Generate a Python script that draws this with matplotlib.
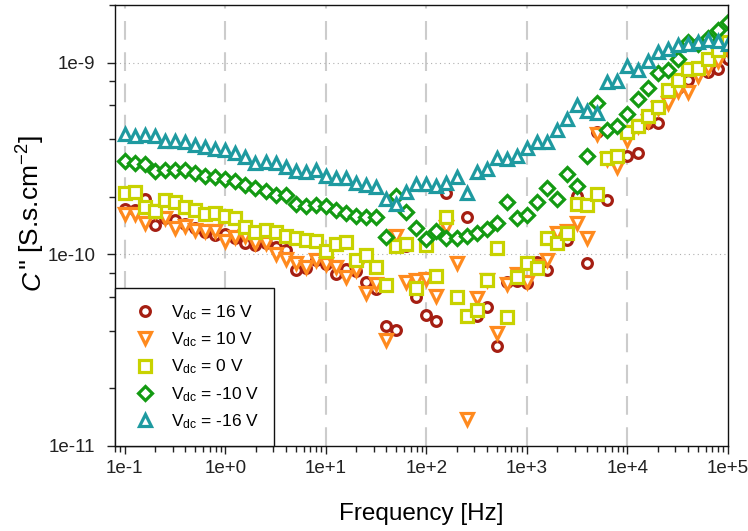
import numpy as np
import matplotlib
matplotlib.use("Agg")
import matplotlib.pyplot as plt
from matplotlib.ticker import LogLocator, FixedLocator, NullFormatter

plt.rcParams['font.family'] = ['Liberation Sans', 'DejaVu Sans']
plt.rcParams['mathtext.fontset'] = 'custom'
plt.rcParams['mathtext.rm'] = 'Liberation Sans'
plt.rcParams['mathtext.it'] = 'Liberation Sans:italic'
plt.rcParams['mathtext.bf'] = 'Liberation Sans:bold'

# Frequencies: 10 points per decade from 1e-1 to 1e5
freq = [round(10 ** (k / 10.0 - 1), 6) for k in range(61)]

c_16 = [0.172, 0.171, 0.194, 0.142, 0.155, 0.151, 0.144, 0.137, 0.131, 0.126,
        0.128, 0.122, 0.115, 0.112, 0.115, 0.109, 0.105, 0.0827, 0.0847, 0.0938,
        0.0893, 0.0790, 0.0837, 0.0818, 0.0720, 0.0661, 0.0421, 0.0404, 0.111, 0.0598,
        0.0483, 0.0447, 0.210, 0.0598, 0.157, 0.0475, 0.0534, 0.0333, 0.0717, 0.0726,
        0.0713, 0.0916, 0.0827, 0.129, 0.119, 0.201, 0.0902, 0.433, 0.191, 0.320,
        0.325, 0.338, 0.482, 0.486, 0.681, 0.738, 0.815, 0.938, 0.890, 0.927,
        1.049]
c_10 = [0.163, 0.163, 0.146, 0.169, 0.154, 0.137, 0.141, 0.134, 0.133, 0.133,
        0.118, 0.123, 0.125, 0.114, 0.114, 0.101, 0.0943, 0.0902, 0.0860, 0.0935,
        0.0887, 0.0863, 0.0761, 0.0830, 0.0627, 0.0704, 0.0359, 0.124, 0.0716, 0.0735,
        0.0742, 0.0607, 0.139, 0.0902, 0.0138, 0.0590, 0.0735, 0.0388, 0.0699, 0.0790,
        0.0717, 0.0870, 0.0935, 0.130, 0.132, 0.145, 0.121, 0.425, 0.313, 0.287,
        0.396, 0.468, 0.498, 0.582, 0.616, 0.708, 0.699, 0.856, 0.938, 1.016,
        1.169]
c_0 = [0.208, 0.212, 0.176, 0.168, 0.192, 0.187, 0.176, 0.171, 0.163, 0.165,
       0.159, 0.155, 0.139, 0.131, 0.134, 0.131, 0.125, 0.122, 0.119, 0.117,
       0.104, 0.113, 0.116, 0.0929, 0.0994, 0.0860, 0.0694, 0.110, 0.113, 0.0667,
       0.112, 0.0770, 0.157, 0.0598, 0.0477, 0.0513, 0.0735, 0.108, 0.0470, 0.0761,
       0.0899, 0.0847, 0.122, 0.114, 0.129, 0.184, 0.180, 0.206, 0.317, 0.324,
       0.433, 0.469, 0.524, 0.585, 0.717, 0.815, 0.927, 0.938, 1.049, 1.169,
       1.277]
c_m10 = [0.308, 0.301, 0.296, 0.272, 0.275, 0.275, 0.275, 0.265, 0.255, 0.254,
         0.248, 0.242, 0.230, 0.221, 0.215, 0.205, 0.205, 0.184, 0.179, 0.181,
         0.178, 0.170, 0.164, 0.159, 0.156, 0.157, 0.123, 0.201, 0.166, 0.137,
         0.120, 0.133, 0.122, 0.122, 0.125, 0.130, 0.135, 0.145, 0.188, 0.155,
         0.160, 0.188, 0.223, 0.194, 0.262, 0.226, 0.326, 0.618, 0.444, 0.468,
         0.542, 0.646, 0.738, 0.884, 0.912, 1.045, 1.277, 1.252, 1.345, 1.475,
         1.63]
c_m16 = [0.426, 0.416, 0.420, 0.413, 0.391, 0.391, 0.387, 0.373, 0.363, 0.355,
         0.349, 0.338, 0.321, 0.301, 0.305, 0.299, 0.285, 0.272, 0.268, 0.274,
         0.255, 0.250, 0.250, 0.237, 0.230, 0.224, 0.194, 0.184, 0.212, 0.232,
         0.233, 0.227, 0.237, 0.252, 0.210, 0.269, 0.279, 0.320, 0.316, 0.325,
         0.359, 0.385, 0.385, 0.447, 0.508, 0.603, 0.562, 0.546, 0.793, 0.806,
         0.965, 0.919, 1.016, 1.137, 1.18, 1.24, 1.25, 1.277, 1.32, 1.29,
         1.25]

labels = [r'V$_{\mathrm{dc}}$ = 16 V', r'V$_{\mathrm{dc}}$ = 10 V', r'V$_{\mathrm{dc}}$ = 0 V',
          r'V$_{\mathrm{dc}}$ = -10 V', r'V$_{\mathrm{dc}}$ = -16 V']
series = [c_16, c_10, c_0, c_m10, c_m16]
colors = ['#A51E12', '#FF8A1E', '#C8D200', '#139A12', '#1E9AA0']
markers = ['o', 'v', 's', 'D', '^']
sizes = [7.0, 8.0, 8.5, 7.0, 8.0]

W, H = 748, 531
fig = plt.figure(figsize=(W / 100, H / 100), dpi=100)
ax = fig.add_axes([115 / W, 1 - 446 / H, (728 - 115) / W, (446 - 5) / H])

for vals, lab, col, mk, ms in zip(series, labels, colors, markers, sizes):
    ax.plot(freq, np.array(vals) * 1e-9, linestyle='none', marker=mk, markersize=ms,
            markerfacecolor='white', markeredgecolor=col, markeredgewidth=2.3,
            label=lab)

ax.set_xscale('log')
ax.set_yscale('log')
ax.set_xlim(0.08, 1e5)
ax.set_ylim(1e-11, 2e-9)

ax.xaxis.set_major_locator(FixedLocator([1e-1, 1e0, 1e1, 1e2, 1e3, 1e4, 1e5]))
ax.set_xticklabels(['1e-1', '1e+0', '1e+1', '1e+2', '1e+3', '1e+4', '1e+5'])
ax.xaxis.set_minor_locator(LogLocator(base=10, subs=np.arange(2, 10), numticks=20))
ax.xaxis.set_minor_formatter(NullFormatter())
ax.yaxis.set_major_locator(FixedLocator([1e-11, 1e-10, 1e-9]))
ax.set_yticklabels(['1e-11', '1e-10', '1e-9'])
ax.yaxis.set_minor_locator(LogLocator(base=10, subs=[2, 4, 6, 8], numticks=20))
ax.yaxis.set_minor_formatter(NullFormatter())

ax.tick_params(which='major', direction='out', length=6, width=1, labelsize=13.5, colors='#222222')
ax.tick_params(which='minor', direction='out', length=4, width=1, colors='#222222')
ax.tick_params(axis='x', which='major', pad=4)
ax.tick_params(axis='y', which='major', pad=8)

for x in [1e-1, 1e0, 1e1, 1e2, 1e3, 1e4]:
    ax.axvline(x, color='#cccccc', linewidth=1.5, dashes=(9, 6), zorder=0)
for y in [1e-10, 1e-9]:
    ax.axhline(y, color='#b0b0b0', linewidth=0.8, dashes=(1, 3), zorder=0)

for s in ax.spines.values():
    s.set_linewidth(1.0)
    s.set_color('#111111')

ax.set_xlabel('Frequency [Hz]', fontsize=17.5, labelpad=19)

# Y label: italic "C" followed by the upright remainder, both rotated
base_x = 40 / W
start_y = 290 / H
t1 = fig.text(base_x, 1 - start_y, 'C', rotation=90, rotation_mode='anchor',
              ha='left', va='baseline', fontsize=19, style='italic')
fig.canvas.draw()
ext = t1.get_window_extent(renderer=fig.canvas.get_renderer())
fig.text(base_x, (ext.y1 + 1) / H, r"'' [S.s.cm$^{-2}$]", rotation=90,
         rotation_mode='anchor', ha='left', va='baseline', fontsize=19)

leg = ax.legend(loc='lower left', bbox_to_anchor=(0, 0), borderaxespad=0,
                fontsize=12.5, frameon=True, fancybox=False, framealpha=1,
                edgecolor='#111111', labelspacing=0.5, borderpad=0.85,
                handlelength=1.7, handletextpad=0.7)
leg.get_frame().set_linewidth(1.0)

fig.savefig('out.png', dpi=100)
